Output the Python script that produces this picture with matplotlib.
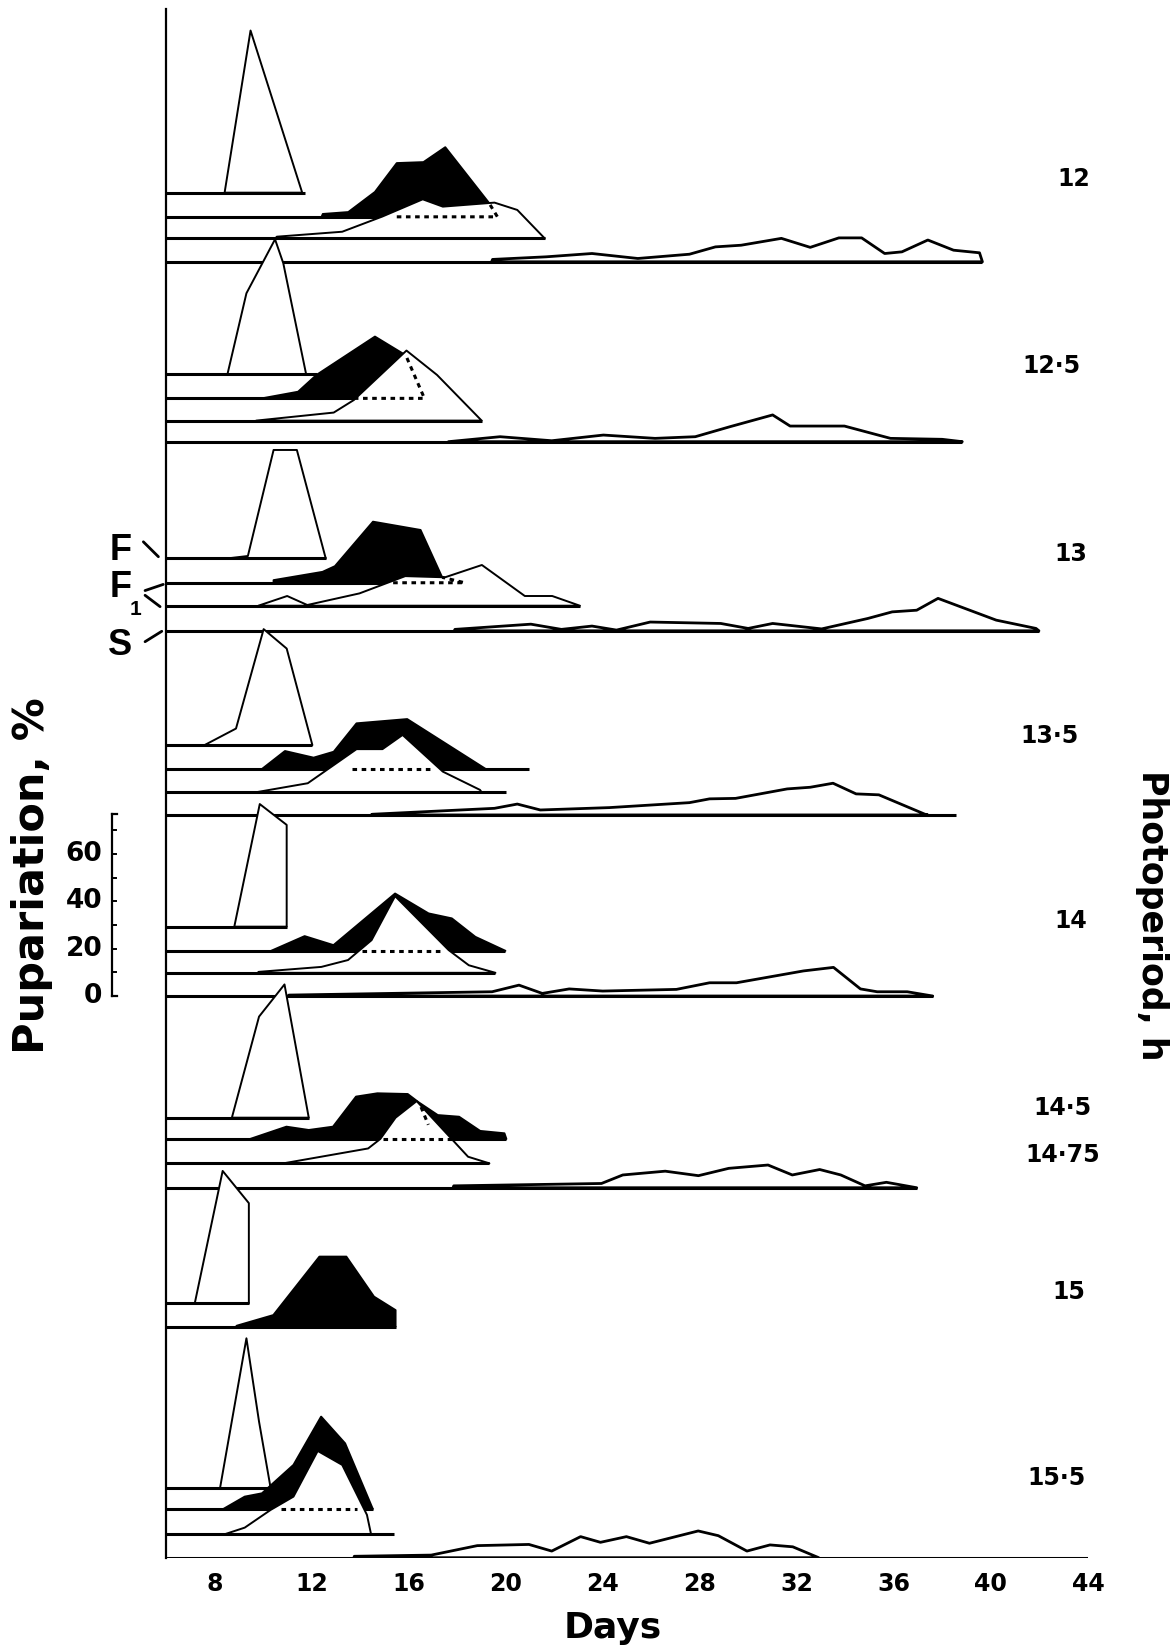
import matplotlib
matplotlib.use('Agg')
import matplotlib.pyplot as plt
from matplotlib.patches import Polygon

# ---------------- data: (day, % pupariation) ----------------
DAY_TICKS = [8, 12, 16, 20, 24, 28, 32, 36, 40, 44]

P12_F = [(8.4, 0), (9.47, 68.5), (11.6, 0)]
P12_F1B = [(12.4, 0), (12.45, 1.2), (13.5, 2.0), (14.6, 10.5), (15.5, 22.7), (16.6, 23.1),
           (17.5, 29.4), (19.3, 5.9), (19.65, 0)]
P12_F1O = [(10.5, 0), (10.55, 0.7), (13.25, 2.8), (14.9, 9.2), (16.57, 16.5), (17.4, 13.4),
           (19.53, 15.1), (20.47, 12.0), (21.6, 0)]
P12_S = [(19.41, 0), (19.45, 1.0), (21.66, 2.1), (23.55, 3.5), (25.44, 1.4), (27.57, 3.2),
         (28.64, 6.3), (29.7, 7.0), (31.36, 9.9), (32.55, 6.1), (33.73, 10.1), (34.67, 10.1),
         (35.62, 3.5), (36.33, 4.2), (37.4, 9.2), (38.46, 4.9), (39.53, 3.8), (39.65, 0)]
P12_END = [11.71, 19.65, 21.6, 39.65]
P12_DASH = [[(15.5, 0), (19.65, 0), (19.3, 5.9)]]

P125_F = [(8.52, 0), (9.3, 34.1), (10.48, 56.9), (10.82, 46.8), (11.76, 0)]
P125_F1B = [(9.94, 0), (11.43, 2.8), (12.19, 9.9), (14.6, 26.1), (15.74, 19.0), (16.64, 0)]
P125_F1O = [(9.7, 0), (12.9, 3.4), (13.73, 8.7), (15.9, 29.6), (17.16, 19.3), (19.0, 0)]
P125_S = [(17.63, 0), (19.76, 2.1), (21.89, 0.4), (24.02, 2.8), (26.15, 1.4), (27.81, 2.1),
          (29.23, 6.3), (31.0, 11.3), (31.72, 6.6), (33.96, 6.6), (35.86, 1.4), (37.99, 1.0),
          (38.82, 0)]
P125_END = [12.19, 16.64, 19.0, 38.82]
P125_DASH = [[(13.73, 0), (16.64, 0), (15.9, 17.5)]]

P13_F = [(8.53, 0), (9.36, 1.0), (10.42, 45.8), (11.38, 45.8), (12.57, 0)]
P13_F1B = [(10.42, 0), (10.42, 1.1), (12.44, 4.6), (12.95, 7.0), (14.52, 25.8), (16.48, 22.3),
           (17.37, 2.3), (18.3, 0)]
P13_F1O = [(9.79, 0), (10.98, 4.1), (11.81, 0.3), (13.96, 5.2), (15.85, 12.5), (17.49, 12.0),
           (19.01, 17.2), (20.78, 4.1), (21.91, 4.1), (23.05, 0)]
P13_S = [(17.87, 0), (17.9, 0.6), (21.03, 2.8), (22.29, 0.6), (23.55, 2.0), (24.56, 0.3),
         (25.95, 3.7), (28.86, 3.1), (29.99, 1.0), (31.0, 3.1), (33.02, 0.8), (34.92, 5.2),
         (35.93, 8.0), (36.94, 8.7), (37.82, 13.7), (40.22, 4.5), (41.86, 1.0), (41.98, 0)]
P13_END = [12.57, 18.3, 23.05, 41.98]
P13_DASH = [[(15.35, 0), (18.3, 0), (17.37, 2.3)]]

P135_F = [(7.57, 0), (8.87, 7.0), (10.01, 49.0), (10.96, 40.8), (12.02, 0)]
P135_F1B = [(9.94, 0), (10.89, 7.6), (12.07, 4.8), (12.9, 7.3), (13.84, 19.3), (15.93, 21.1),
            (19.17, 0)]
P135_F1O = [(9.7, 0), (11.83, 3.8), (13.84, 18.2), (14.91, 18.2), (15.74, 24.2), (17.4, 8.7),
            (18.93, 1.0), (19.0, 0)]
P135_S = [(14.44, 0), (14.5, 0.3), (19.53, 2.8), (20.47, 4.6), (21.42, 2.1), (24.26, 3.1),
          (27.57, 5.2), (28.4, 6.8), (29.47, 7.0), (31.6, 11.0), (32.55, 11.7), (33.49, 13.4),
          (34.44, 8.9), (35.38, 8.5), (37.28, 0.3), (37.4, 0)]
P135_END = [12.02, 20.95, 20.0, 38.58]
P135_DASH = [[(13.66, 0), (16.9, 0)]]

P14_F = [(8.8, 0), (9.85, 51.8), (10.96, 43.0), (10.96, 0)]
P14_F1B = [(10.32, 0), (11.7, 6.2), (12.89, 2.4), (15.43, 24.2), (16.81, 15.8), (17.77, 13.7),
           (18.74, 5.9), (19.98, 0)]
P14_F1O = [(9.77, 0), (9.8, 0.4), (12.39, 2.5), (13.49, 5.4), (14.46, 13.8), (15.43, 32.4),
           (17.64, 9.6), (18.47, 3.2), (19.57, 0)]
P14_S = [(11.01, 0), (11.05, 0.4), (19.43, 1.8), (20.54, 4.6), (21.5, 1.1), (22.61, 3.0),
         (23.99, 2.1), (27.03, 2.8), (28.4, 5.6), (29.51, 5.6), (32.27, 10.6), (33.51, 12.1),
         (34.62, 3.0), (35.31, 1.8), (36.55, 1.8), (37.6, 0)]
P14_END = [10.96, 19.98, 19.57, 37.6]
P14_DASH = [[(14.05, 0), (17.36, 0)]]

P145_F = [(8.7, 0), (9.82, 42.7), (10.87, 56.3), (11.87, 0)]
P145_F1B = [(9.45, 0), (10.95, 5.2), (11.87, 3.8), (12.87, 5.2), (13.82, 17.9), (14.7, 19.3),
            (15.95, 19.0), (16.4, 15.5), (17.19, 10.1), (18.07, 9.4), (18.94, 3.4), (19.94, 2.4),
            (20.02, 0)]
P145_F1O = [(10.82, 0), (14.32, 6.3), (14.82, 10.3), (15.45, 19.3), (16.32, 26.3), (18.44, 2.8),
            (19.32, 0)]
P145_S = [(17.82, 0), (17.85, 0.8), (23.94, 1.8), (24.82, 5.4), (26.57, 7.0), (27.94, 5.1),
          (29.19, 8.2), (30.81, 9.6), (31.81, 5.4), (32.94, 7.7), (33.81, 5.4), (34.81, 0.8),
          (35.69, 2.3), (36.94, 0)]
P145_END = [11.87, 20.02, 19.32, 36.94]
P145_DASH = [[(14.95, 0), (17.82, 0)], [(16.5, 13.5), (16.8, 6.0)]]

P15_F = [(7.17, 0), (8.32, 55.9), (9.4, 42.3), (9.4, 0)]
P15_F1B = [(8.87, 0), (8.9, 0.4), (10.41, 4.9), (12.31, 29.6), (13.42, 29.6), (14.56, 12.7),
           (15.45, 7.0), (15.45, 0)]
P15_END = [9.4, 15.45]
P15_DASH = []

P155_F = [(8.21, 0), (9.3, 63.4), (9.82, 28.2), (10.3, 0)]
P155_F1B = [(8.35, 0), (9.23, 5.2), (9.94, 6.6), (11.24, 18.6), (12.38, 39.0), (13.37, 27.7),
            (14.51, 0)]
P155_F1O = [(8.4, 0), (9.23, 2.8), (10.3, 10.3), (11.24, 15.9), (12.24, 35.2), (13.25, 29.3),
            (14.27, 8.2), (14.44, 0)]
P155_S = [(13.73, 0), (13.75, 0.6), (16.92, 1.1), (18.82, 5.1), (20.95, 5.6), (21.89, 2.8),
          (23.08, 8.9), (23.9, 6.5), (24.97, 8.9), (25.92, 6.1), (27.93, 11.3), (28.76, 9.3),
          (29.94, 2.8), (30.89, 5.4), (31.83, 4.6), (32.9, 0)]
P155_END = [10.3, 14.51, 15.38, 44.0]
P155_DASH = [[(10.72, 0), (13.84, 0)]]

SCALE_TICKS = [0, 10, 20, 30, 40, 50, 60, 70]
SCALE_LABELS = [0, 20, 40, 60]

# ---------------- layout (stack offsets in % units, label positions) ----------------
BASE_12 = [576.7, 566.5, 557.4, 547.5]
BASE_125 = [500.1, 489.8, 480.4, 471.5]
BASE_13 = [422.2, 411.9, 402.2, 391.6]
BASE_135 = [343.3, 333.2, 323.4, 313.8]
BASE_14 = [266.6, 256.4, 247.1, 237.3]
BASE_145 = [185.9, 176.9, 166.6, 156.3]
BASE_15 = [107.5, 97.6]
BASE_155 = [29.3, 20.6, 9.9, 0.0]

KINDS4 = ['F', 'F1b', 'F1o', 'S']
PANELS = [
    ([P12_F, P12_F1B, P12_F1O, P12_S], P12_END, BASE_12, KINDS4, P12_DASH),
    ([P125_F, P125_F1B, P125_F1O, P125_S], P125_END, BASE_125, KINDS4, P125_DASH),
    ([P13_F, P13_F1B, P13_F1O, P13_S], P13_END, BASE_13, KINDS4, P13_DASH),
    ([P135_F, P135_F1B, P135_F1O, P135_S], P135_END, BASE_135, KINDS4, P135_DASH),
    ([P14_F, P14_F1B, P14_F1O, P14_S], P14_END, BASE_14, KINDS4, P14_DASH),
    ([P145_F, P145_F1B, P145_F1O, P145_S], P145_END, BASE_145, KINDS4, P145_DASH),
    ([P15_F, P15_F1B], P15_END, BASE_15, ['F', 'F1b'], P15_DASH),
    ([P155_F, P155_F1B, P155_F1O, P155_S], P155_END, BASE_155, KINDS4, P155_DASH),
]

PHOTO_LABELS = ['12', '12·5', '13', '13·5', '14', '14·5', '14·75', '15', '15·5']
PHOTO_POS = [(43.4, 582.5), (42.5, 503.5), (43.3, 423.9), (42.4, 347.0), (43.3, 269.2),
             (42.95, 190.1), (42.95, 170.0), (43.2, 112.3), (42.7, 33.7)]

FONT = 'DejaVu Sans'

W, H = 1174, 1650
fig = plt.figure(figsize=(W / 100, H / 100), dpi=100)
fig.patch.set_facecolor('white')
ax = fig.add_axes([166.4 / W, 92.3 / H, (1087.9 - 166.4) / W, 1548.7 / H])
ax.set_xlim(6, 44)
ax.set_ylim(0, 654.3)
ax.set_facecolor('none')
for s in ['top', 'right', 'bottom']:
    ax.spines[s].set_visible(False)
ax.spines['left'].set_linewidth(1.6)
ax.spines['left'].set_zorder(100)
ax.set_yticks([])
ax.set_xticks(DAY_TICKS)
ax.set_xticklabels([str(t) for t in DAY_TICKS])
ax.tick_params(axis='x', length=0, pad=10)
for lab in ax.get_xticklabels():
    lab.set_fontfamily(FONT)
    lab.set_fontweight('bold')
    lab.set_fontsize(17)

LW_BASE = 2.2
LW_F = 1.4
LW_S = 2.0

for p, (curves, ends, bases, kinds, dashes) in enumerate(PANELS):
    z0 = 2 + p * 6
    for c, (pts, end, base, kind) in enumerate(zip(curves, ends, bases, kinds)):
        z = z0 + c
        xs = [q[0] for q in pts]
        ys = [base + q[1] for q in pts]
        fc = 'black' if kind == 'F1b' else 'white'
        lw = LW_S if kind == 'S' else LW_F
        poly = Polygon(list(zip(xs, ys)), closed=True, facecolor=fc, edgecolor='black',
                       linewidth=lw, zorder=z, joinstyle='round')
        ax.add_patch(poly)
        ax.plot([6, end], [base, base], color='black', lw=LW_BASE, zorder=z + 0.1,
                solid_capstyle='butt')
    if len(bases) > 1:
        for dpath in dashes:
            ax.plot([q[0] for q in dpath], [bases[1] + q[1] for q in dpath], color='black',
                    lw=2.2, linestyle=(0, (1.5, 1.5)), zorder=z0 + 2.5)

for lab, (x, y) in zip(PHOTO_LABELS, PHOTO_POS):
    ax.text(x, y, lab, ha='center', va='center', fontsize=17, fontweight='bold',
            family=FONT, zorder=200)

# scale bar for % pupariation (0 at the S baseline of the 14 h panel)
sb0 = BASE_14[3]
sbx, sbt = 3.74, 3.92
ax.plot([sbx, sbx], [sb0, sb0 + 77], color='black', lw=1.6, clip_on=False, zorder=50)
ax.plot([sbx, 3.98], [sb0 + 77, sb0 + 77], color='black', lw=1.6, clip_on=False, zorder=50)
ax.plot([sbx, 3.98], [sb0, sb0], color='black', lw=1.6, clip_on=False, zorder=50)
for t in SCALE_TICKS[1:]:
    ax.plot([sbx, sbt], [sb0 + t, sb0 + t], color='black', lw=1.4, clip_on=False, zorder=50)
for t in SCALE_LABELS:
    ax.text(3.35, sb0 + t, str(t), ha='right', va='center', fontsize=19, fontweight='bold',
            family=FONT, clip_on=False)

# F / F1 / S key
kw = dict(ha='center', va='center', fontsize=26, family='Liberation Sans',
          fontweight='bold', clip_on=False)
ax.text(4.1, 425.6, 'F', **kw)
ax.text(4.1, 410.0, 'F', **kw)
ax.text(4.72, 400.6, '1', ha='center', va='center', fontsize=15, family='Liberation Sans',
        fontweight='bold', clip_on=False)
ax.text(4.1, 385.6, 'S', **kw)
for (xa, ya), (xb, yb) in [((5.05, 429.2), (5.67, 422.9)), ((5.12, 408.6), (5.87, 411.2)),
                           ((5.12, 406.6), (5.74, 401.8)), ((5.12, 387.0), (5.81, 391.4))]:
    ax.plot([xa, xb], [ya, yb], color='black', lw=2.0, clip_on=False, zorder=50,
            solid_capstyle='round')

fig.text(613 / W, 1 - 1628 / H, 'Days', ha='center', va='center', fontsize=26,
         family=FONT, fontweight='bold')
fig.text(1152 / W, 1 - 915 / H, 'Photoperiod, h', ha='center', va='center', fontsize=25,
         rotation=-90, family=FONT, fontweight='bold')
fig.text(32 / W, 1 - 876 / H, 'Pupariation, %', ha='center', va='center', fontsize=31,
         rotation=90, family=FONT, fontweight='bold')

fig.savefig('out.png', dpi=100, facecolor='white')
